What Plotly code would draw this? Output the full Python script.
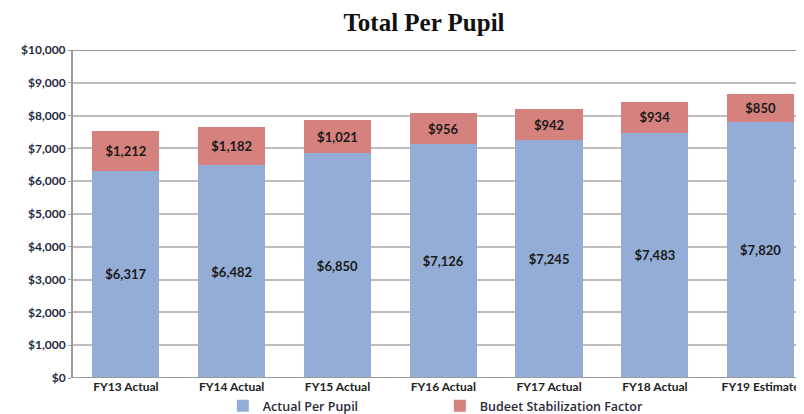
import plotly.graph_objects as go

categories = ["FY13 Actual", "FY14 Actual", "FY15 Actual", "FY16 Actual",
              "FY17 Actual", "FY18 Actual", "FY19 Estimate"]
actual_per_pupil = [6317, 6482, 6850, 7126, 7245, 7483, 7820]
budget_stabilization = [1212, 1182, 1021, 956, 942, 934, 850]
series_names = ["Actual Per Pupil", "Budeet Stabilization Factor"]
y_ticks = list(range(0, 10001, 1000))
y_tick_labels = ["$" + format(v, ",") for v in y_ticks]

FONT = "Lato, Liberation Sans, sans-serif"
BLUE = "#93ADD7"
RED = "#D5817D"

# page body adds an 8px offset; figure is sized to fill the rest of the window
W, H = 796, 406

fig = go.Figure()
fig.add_trace(go.Bar(
    x=categories, y=actual_per_pupil, name=series_names[0],
    marker=dict(color=BLUE, line=dict(width=0)),
    text=["$" + format(v, ",") for v in actual_per_pupil],
    textposition="inside", insidetextanchor="middle",
    textfont=dict(family=FONT, size=13, color="#1a1a1a", weight="bold"),
    width=0.635,
))
fig.add_trace(go.Bar(
    x=categories, y=budget_stabilization, name=series_names[1],
    marker=dict(color=RED, line=dict(width=0)),
    text=["$" + format(v, ",") for v in budget_stabilization],
    textposition="inside", insidetextanchor="middle",
    textfont=dict(family=FONT, size=13, color="#1a1a1a", weight="bold"),
    width=0.635,
))

fig.update_layout(
    width=W, height=H,
    barmode="stack",
    plot_bgcolor="white", paper_bgcolor="white",
    margin=dict(l=65, r=0, t=42, b=36, autoexpand=False),
    title=dict(text="<b>Total Per Pupil</b>", x=416 / W, xanchor="center",
               y=1 - 14 / H, yanchor="middle",
               font=dict(family="Liberation Serif, serif", size=25, color="#111")),
    uniformtext=dict(minsize=8, mode="show"),
    showlegend=True,
    legend=dict(orientation="h", x=0.205, xanchor="left",
                yref="container", y=1 - 398 / H, yanchor="middle",
                traceorder="normal",
                font=dict(family="Open Sans, Lato, sans-serif", size=12.5,
                          color="#2a2a3a", weight=600),
                entrywidth=172, entrywidthmode="pixels",
                itemwidth=30, bgcolor="rgba(0,0,0,0)"),
    xaxis=dict(range=[-0.5, 6.41], showgrid=False, showline=False,
               ticks="", automargin=False,
               tickfont=dict(family=FONT, size=12, color="#222", weight="bold"),
               fixedrange=True),
    yaxis=dict(range=[0, 10000], tickvals=y_ticks, ticktext=y_tick_labels,
               showgrid=True, gridcolor="#BDBDBD", gridwidth=1.5,
               showline=True, linecolor="#9A9A9A", linewidth=2,
               ticks="outside", ticklen=3, tickcolor="#9A9A9A",
               automargin=False,
               tickfont=dict(family=FONT, size=12, color="#1f2a44", weight="bold"),
               zeroline=False, fixedrange=True),
    shapes=[dict(type="line", xref="paper", yref="y", x0=0, x1=1, y0=10000, y1=10000,
                 line=dict(color="#9A9A9A", width=2)),
            dict(type="line", xref="paper", yref="y", x0=0, x1=1, y0=0, y1=0,
                 line=dict(color="#9A9A9A", width=2))],
)

fig.write_html("out.html")
